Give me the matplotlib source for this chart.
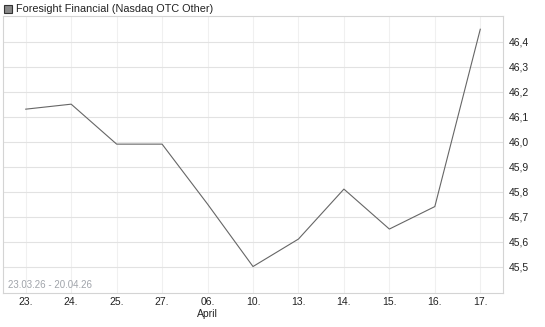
import matplotlib
matplotlib.use("Agg")
import matplotlib.pyplot as plt
from matplotlib.patches import Rectangle

# data
dates = ["23.", "24.", "25.", "27.", "06.", "10.", "13.", "14.", "15.", "16.", "17."]
prices = [46.13, 46.15, 45.99, 45.99, 45.75, 45.50, 45.61, 45.81, 45.65, 45.74, 46.45]
y_ticks = [45.5, 45.6, 45.7, 45.8, 45.9, 46.0, 46.1, 46.2, 46.3, 46.4]
month_label = "April"
month_at = 4
title = "Foresight Financial (Nasdaq OTC Other)"
range_text = "23.03.26 - 20.04.26"

plt.rcParams["font.family"] = ["Liberation Sans", "DejaVu Sans"]

W, H = 545, 327
fig = plt.figure(figsize=(W / 100, H / 100), dpi=100)
fig.patch.set_facecolor("white")

# plot area in pixels: left 3, right 503, top 16, bottom 293
ax = fig.add_axes([3 / W, 1 - 293 / H, 500 / W, 277 / H])

x = list(range(len(dates)))
ax.plot(x, prices, color="#666666", lw=0.8, zorder=3)

ax.set_xlim(-0.5, len(dates) - 0.5)
ax.set_ylim(45.394, 46.503)

labels = list(dates)
labels[month_at] = dates[month_at] + "\n" + month_label
ax.set_xticks(x)
ax.set_xticklabels(labels, fontsize=7.5, linespacing=1.25)
ax.set_yticks(y_ticks)
ax.set_yticklabels([f"{v:.1f}".replace(".", ",") for v in y_ticks], fontsize=7.5)
ax.yaxis.tick_right()
ax.tick_params(axis="both", length=0, colors="#222222")
ax.tick_params(axis="x", pad=3)
ax.tick_params(axis="y", pad=4)

ax.grid(axis="y", color="#e2e2e2", lw=0.8)
ax.grid(axis="x", color="#f0f0f0", lw=0.8)
ax.set_axisbelow(True)
for s in ax.spines.values():
    s.set_color("#d4d4d4")
    s.set_linewidth(0.8)

ax.text(5 / 500, 3 / 277, range_text, transform=ax.transAxes,
        fontsize=7, color="#a0a4aa", ha="left", va="bottom")

# legend-like header
fig.patches.append(Rectangle((4 / W, 1 - 13 / H), 8 / W, 8 / H,
                             transform=fig.transFigure, facecolor="#888888",
                             edgecolor="#333333", lw=0.8))
fig.text(16 / W, 1 - 9 / H, title, fontsize=7.8, color="#222222",
         ha="left", va="center")

fig.savefig("out.png", dpi=100)
